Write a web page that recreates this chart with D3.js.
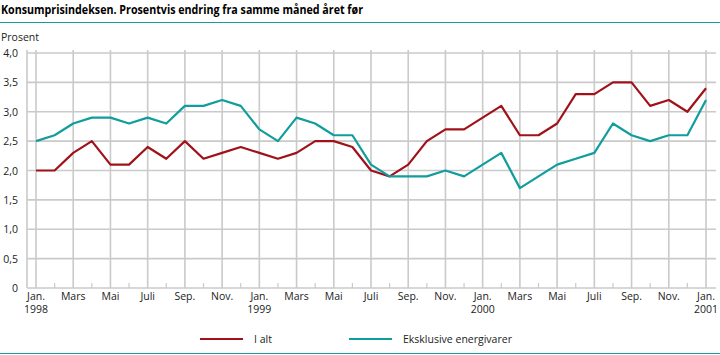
<!DOCTYPE html>
<html><head><meta charset="utf-8">
<script src="https://cdn.jsdelivr.net/npm/d3@7"></script>
<style>
body{margin:0;background:#fff;}
svg{display:block;font-family:"Open Sans",sans-serif;}
</style></head>
<body><svg id="c" width="720" height="355"></svg>
<script>
const months = ["Jan.","Feb.","Mars","April","Mai","Juni","Juli","Aug.","Sep.","Okt.","Nov.","Des."];
const years = [1998,1999,2000,2001];
const iAlt = [2.0,2.0,2.3,2.5,2.1,2.1,2.4,2.2,2.5,2.2,2.3,2.4,
              2.3,2.2,2.3,2.5,2.5,2.4,2.0,1.9,2.1,2.5,2.7,2.7,
              2.9,3.1,2.6,2.6,2.8,3.3,3.3,3.5,3.5,3.1,3.2,3.0,
              3.4];
const ekskl = [2.5,2.6,2.8,2.9,2.9,2.8,2.9,2.8,3.1,3.1,3.2,3.1,
               2.7,2.5,2.9,2.8,2.6,2.6,2.1,1.9,1.9,1.9,2.0,1.9,
               2.1,2.3,1.7,1.9,2.1,2.2,2.3,2.8,2.6,2.5,2.6,2.6,
               3.2];
const yTicks = [0,0.5,1.0,1.5,2.0,2.5,3.0,3.5,4.0];
const seriesNames = ["I alt","Eksklusive energivarer"];
const colors = ["#a0121a","#119d9d"];
const title = "Konsumprisindeksen. Prosentvis endring fra samme måned året før";

const svg = d3.select("#c");
const x = d3.scaleLinear().domain([0,36]).range([36,706]);
const y = d3.scaleLinear().domain([0,4]).range([288,53]);
const fmt = v => v===0 ? "0" : d3.format(".1f")(v).replace(".",",");
const grid = "#cacaca";

svg.append("text").attr("x",1).attr("y",14).attr("font-weight","bold")
  .attr("font-size",12.3).attr("fill","#000")
  .attr("textLength",362).attr("lengthAdjust","spacingAndGlyphs").text(title);
svg.append("line").attr("x1",0).attr("x2",720).attr("y1",22.5).attr("y2",22.5)
  .attr("stroke","#119d9d").attr("stroke-width",1.2);
svg.append("line").attr("x1",0).attr("x2",720).attr("y1",353.5).attr("y2",353.5)
  .attr("stroke","#119d9d").attr("stroke-width",1.2);
svg.append("text").attr("x",1).attr("y",41).attr("font-size",10.5).attr("fill","#222").text("Prosent");

// horizontal grid
const g = svg.append("g");
g.selectAll("line.h").data(yTicks).join("line")
  .attr("x1",27).attr("x2",716).attr("y1",d=>y(d)).attr("y2",d=>y(d))
  .attr("stroke",grid).attr("stroke-width",1.6);
// left border
g.append("line").attr("x1",27).attr("x2",27).attr("y1",y(4)-3).attr("y2",y(0))
  .attr("stroke",grid).attr("stroke-width",1.6);
// vertical grid every other month
const idx = d3.range(0,37);
g.selectAll("line.v").data(idx.filter(i=>i%2===0)).join("line")
  .attr("x1",d=>x(d)).attr("x2",d=>x(d)).attr("y1",y(4)-3).attr("y2",y(0))
  .attr("stroke",grid).attr("stroke-width",1.6);
g.selectAll("line.m").data(idx.filter(i=>i%2===1)).join("line")
  .attr("x1",d=>x(d)).attr("x2",d=>x(d)).attr("y1",y(0)-5).attr("y2",y(0))
  .attr("stroke",grid).attr("stroke-width",1.2);

// y labels
svg.selectAll("text.yl").data(yTicks).join("text")
  .attr("x",18).attr("y",d=>y(d)+4).attr("text-anchor","end")
  .attr("font-size",10.5).attr("fill","#222").text(fmt);

// x labels
const xl = svg.append("g").attr("font-size",10.5).attr("fill","#222").attr("text-anchor","middle");
idx.filter(i=>i%2===0).forEach(i=>{
  xl.append("text").attr("x",x(i)).attr("y",300).text(months[i%12]);
  if(i%12===0) xl.append("text").attr("x",x(i)).attr("y",313).text(years[i/12]);
});

// lines
const line = d3.line().x((d,i)=>x(i)).y(d=>y(d));
[iAlt,ekskl].forEach((s,k)=>{
  svg.append("path").attr("d",line(s)).attr("fill","none")
    .attr("stroke",colors[k]).attr("stroke-width",2.2).attr("stroke-linejoin","round");
});

// legend
const legX = [200,349];
seriesNames.forEach((n,k)=>{
  svg.append("line").attr("x1",legX[k]).attr("x2",legX[k]+43).attr("y1",339).attr("y2",339)
    .attr("stroke",colors[k]).attr("stroke-width",2.2);
  svg.append("text").attr("x",legX[k]+54).attr("y",343).attr("font-size",10.5).attr("fill","#222").text(n);
});
</script></body></html>
